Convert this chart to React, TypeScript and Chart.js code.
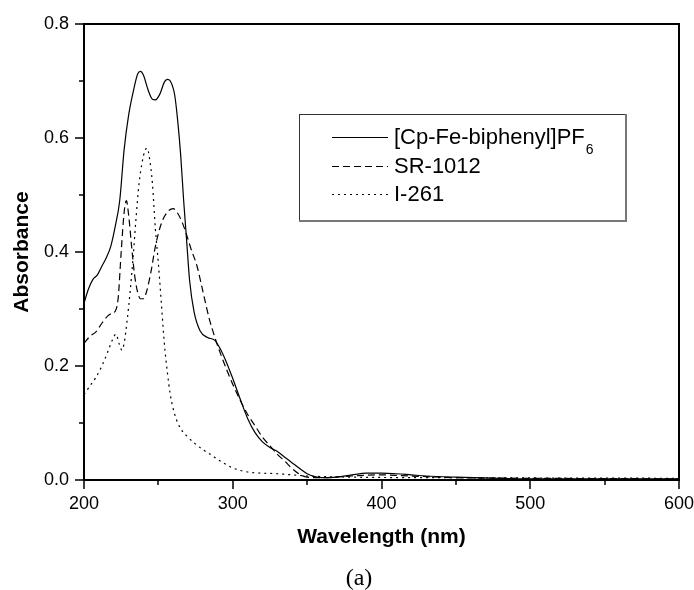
import React, { useEffect, useRef } from "react";
import { Chart, registerables } from "chart.js";

Chart.register(...registerables);

// ---- data ----
const seriesLabels = ["[Cp-Fe-biphenyl]PF6", "SR-1012", "I-261"];
const legendMain = ["[Cp-Fe-biphenyl]PF", "SR-1012", "I-261"];
const legendSub = ["6", "", ""];

const wlCpFe = [200, 203, 206, 209, 212, 215, 218, 221, 224, 227, 230, 233, 236, 238, 240, 243, 246, 248, 251, 254, 256, 258, 261, 263, 265, 267, 269, 271, 274, 278, 283, 288, 292, 296, 300, 305, 310, 315, 320, 325, 330, 335, 340, 345, 350, 355, 360, 370, 380, 390, 400, 410, 420, 430, 450, 480, 500, 550, 600];
const absCpFe = [0.31, 0.335, 0.352, 0.36, 0.375, 0.39, 0.41, 0.445, 0.49, 0.58, 0.64, 0.68, 0.712, 0.717, 0.71, 0.685, 0.668, 0.667, 0.677, 0.698, 0.703, 0.7, 0.675, 0.63, 0.57, 0.49, 0.42, 0.35, 0.295, 0.262, 0.25, 0.245, 0.228, 0.205, 0.178, 0.142, 0.108, 0.083, 0.067, 0.057, 0.05, 0.04, 0.03, 0.02, 0.011, 0.006, 0.004, 0.005, 0.009, 0.012, 0.012, 0.011, 0.009, 0.007, 0.005, 0.003, 0.002, 0.002, 0.002];

const wlSR = [200, 204, 208, 212, 216, 219, 221, 223, 225, 227, 228.5, 230, 232, 234, 236, 238, 240, 242, 245, 248, 252, 256, 260, 263, 266, 269, 272, 276, 280, 284, 288, 292, 296, 300, 305, 310, 315, 320, 325, 330, 335, 340, 345, 350, 360, 380, 400, 420, 450, 500, 600];
const absSR = [0.24, 0.252, 0.26, 0.275, 0.288, 0.293, 0.296, 0.32, 0.4, 0.47, 0.49, 0.465, 0.41, 0.36, 0.33, 0.318, 0.318, 0.33, 0.365, 0.41, 0.45, 0.47, 0.476, 0.468, 0.452, 0.43, 0.405, 0.375, 0.33, 0.285, 0.25, 0.22, 0.193, 0.168, 0.14, 0.115, 0.095, 0.075, 0.06, 0.045, 0.033, 0.02, 0.01, 0.005, 0.004, 0.007, 0.009, 0.007, 0.004, 0.003, 0.002];

const wlI261 = [200, 204, 208, 212, 216, 219, 221.5, 223.5, 225.5, 227, 229, 231, 233, 235, 237, 239, 241, 242.5, 244, 246, 248, 250, 252, 254, 256, 258, 261, 265, 270, 275, 280, 285, 290, 295, 300, 310, 320, 330, 340, 350, 380, 450, 600];
const absI261 = [0.15, 0.165, 0.18, 0.2, 0.225, 0.245, 0.256, 0.24, 0.228, 0.24, 0.28, 0.33, 0.39, 0.46, 0.52, 0.556, 0.578, 0.582, 0.565, 0.52, 0.44, 0.38, 0.31, 0.24, 0.19, 0.15, 0.115, 0.09, 0.075, 0.063, 0.053, 0.045, 0.036, 0.028, 0.021, 0.014, 0.012, 0.011, 0.009, 0.007, 0.005, 0.004, 0.003];

const xMajorTicks = [200, 300, 400, 500, 600];
const xMinorTicks = [250, 350, 450, 550];
const yMajorTicks = [0, 0.2, 0.4, 0.6, 0.8];
const yMinorTicks = [0.1, 0.3, 0.5, 0.7];

const dashes: number[][] = [[], [7, 4], [2, 4]];

const SANS = "'Liberation Sans', Arial, Helvetica, sans-serif";

const framePlugin = {
  id: "frameTicks",
  afterDraw(chart: any) {
    const { ctx, chartArea: a, scales } = chart;
    const xs = scales.x;
    const ys = scales.y;
    ctx.save();
    ctx.strokeStyle = "#000";
    ctx.lineWidth = 2;
    ctx.setLineDash([]);
    ctx.strokeRect(a.left, a.top, a.right - a.left, a.bottom - a.top);
    ctx.lineWidth = 1.5;
    ctx.beginPath();
    yMajorTicks.forEach((v) => {
      const p = Math.round(ys.getPixelForValue(v));
      ctx.moveTo(a.left - 9, p);
      ctx.lineTo(a.left, p);
    });
    yMinorTicks.forEach((v) => {
      const p = Math.round(ys.getPixelForValue(v));
      ctx.moveTo(a.left - 5, p);
      ctx.lineTo(a.left, p);
    });
    xMajorTicks.forEach((v) => {
      const p = Math.round(xs.getPixelForValue(v));
      ctx.moveTo(p, a.bottom);
      ctx.lineTo(p, a.bottom + 9);
    });
    xMinorTicks.forEach((v) => {
      const p = Math.round(xs.getPixelForValue(v));
      ctx.moveTo(p, a.bottom);
      ctx.lineTo(p, a.bottom + 5);
    });
    ctx.stroke();

    // legend box
    const bx = 299, by = 114, bw = 326, bh = 106;
    ctx.fillStyle = "#fff";
    ctx.fillRect(bx, by, bw, bh);
    ctx.lineWidth = 1;
    ctx.strokeStyle = "#333";
    ctx.strokeRect(bx + 0.5, by + 0.5, bw, bh);
    ctx.strokeStyle = "#777";
    ctx.lineWidth = 2;
    ctx.beginPath();
    ctx.moveTo(bx, by + bh + 1);
    ctx.lineTo(bx + bw + 1, by + bh + 1);
    ctx.lineTo(bx + bw + 1, by);
    ctx.stroke();

    const rows = [137, 166, 194];
    rows.forEach((ry, i) => {
      ctx.strokeStyle = "#000";
      ctx.lineWidth = 1.2;
      ctx.setLineDash(dashes[i]);
      ctx.beginPath();
      ctx.moveTo(332, ry + 0.5);
      ctx.lineTo(388, ry + 0.5);
      ctx.stroke();
      ctx.setLineDash([]);
      ctx.fillStyle = "#000";
      ctx.font = `22px ${SANS}`;
      ctx.textBaseline = "middle";
      ctx.textAlign = "left";
      ctx.fillText(legendMain[i], 394, ry + 1);
      if (legendSub[i]) {
        const w = ctx.measureText(legendMain[i]).width;
        ctx.font = `14px ${SANS}`;
        ctx.fillText(legendSub[i], 394 + w + 1, ry + 13);
      }
    });
    ctx.restore();
  },
};

export default function App() {
  const ref = useRef<HTMLCanvasElement | null>(null);

  useEffect(() => {
    if (!ref.current) return;
    const mk = (xsArr: number[], ysArr: number[]) => xsArr.map((x, i) => ({ x, y: ysArr[i] }));
    const chart = new Chart(ref.current, {
      type: "line",
      data: {
        datasets: [
          { label: seriesLabels[0], data: mk(wlCpFe, absCpFe) },
          { label: seriesLabels[1], data: mk(wlSR, absSR) },
          { label: seriesLabels[2], data: mk(wlI261, absI261) },
        ].map((d, i) => ({
          ...d,
          borderColor: "#000",
          backgroundColor: "#000",
          borderWidth: 1.2,
          borderDash: dashes[i],
          pointRadius: 0,
          cubicInterpolationMode: "monotone" as const,
          fill: false,
        })),
      },
      options: {
        animation: false,
        responsive: false,
        maintainAspectRatio: false,
        devicePixelRatio: 1,
        layout: { padding: { top: 24, right: 15, left: 0, bottom: 0 } },
        plugins: { legend: { display: false }, tooltip: { enabled: false } },
        scales: {
          x: {
            type: "linear",
            min: 200,
            max: 600,
            grid: { display: false, drawTicks: false },
            border: { display: false },
            ticks: {
              stepSize: 100,
              padding: 13,
              color: "#000",
              font: { family: SANS, size: 18 },
            },
            title: {
              display: true,
              text: "Wavelength (nm)",
              color: "#000",
              font: { family: SANS, size: 21, weight: "bold" },
              padding: { top: 0, bottom: 40 },
            },
            afterFit(scale: any) {
              scale.height = 110;
              scale.paddingLeft = 0;
              scale.paddingRight = 0;
            },
          },
          y: {
            type: "linear",
            min: 0,
            max: 0.8,
            grid: { display: false, drawTicks: false },
            border: { display: false },
            ticks: {
              stepSize: 0.2,
              padding: 15,
              color: "#000",
              font: { family: SANS, size: 18 },
              callback: (v: any) => Number(v).toFixed(1),
            },
            title: {
              display: true,
              text: "Absorbance",
              color: "#000",
              font: { family: SANS, size: 21, weight: "bold" },
              padding: { top: 10, bottom: 0 },
            },
            afterFit(scale: any) {
              scale.width = 84;
              scale.paddingTop = 0;
              scale.paddingBottom = 0;
            },
          },
        },
      },
      plugins: [framePlugin],
    } as any);
    return () => chart.destroy();
  }, []);

  return (
    <div style={{ position: "fixed", left: 0, top: 0, width: 694, height: 590, background: "#fff" }}>
      <canvas ref={ref} width={694} height={590} style={{ display: "block", width: 694, height: 590 }} />
      <div
        style={{
          position: "absolute",
          left: 359,
          top: 564,
          transform: "translateX(-50%)",
          fontFamily: "'Liberation Serif', 'Times New Roman', serif",
          fontSize: 24,
          lineHeight: "26px",
          color: "#000",
        }}
      >
        (a)
      </div>
    </div>
  );
}
